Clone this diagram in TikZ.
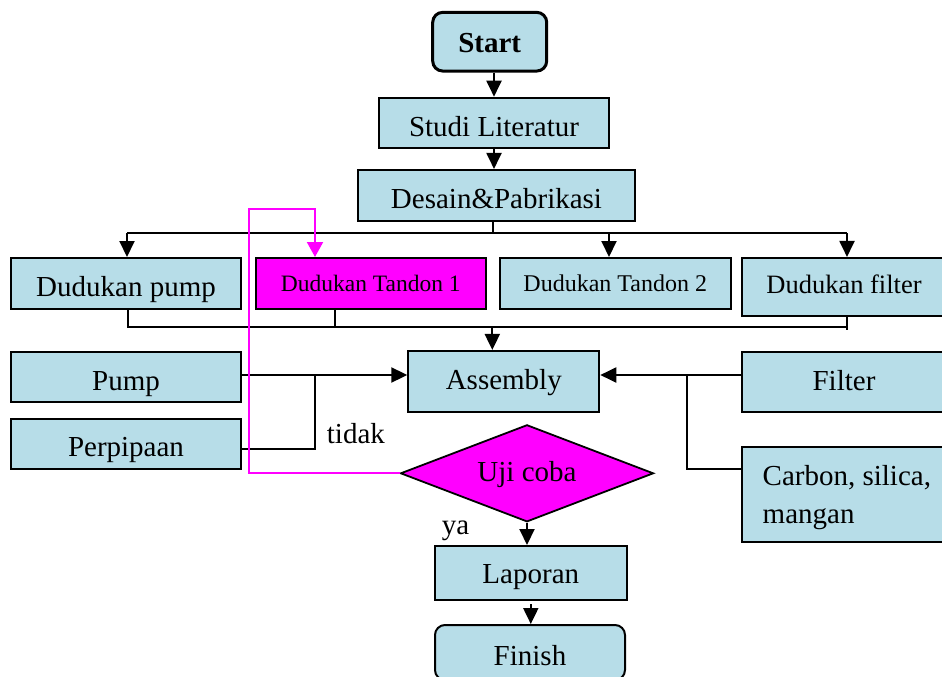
\documentclass[tikz,border=0pt]{standalone}
\usepackage{fontspec}
\setmainfont{Liberation Serif}
\usetikzlibrary{arrows.meta,shapes.geometric}
\definecolor{boxblue}{RGB}{183,221,232}
\definecolor{mag}{RGB}{255,0,255}
\begin{document}
\begin{tikzpicture}[x=1pt,y=-1pt,
  box/.style={draw=black, line width=2pt, fill=boxblue, inner sep=0pt, font=\fontsize{29}{35}\selectfont},
  magbox/.style={box, fill=mag},
  bl/.style={text height=#1, text depth=0pt},
  conn/.style={line width=2pt, black},
  arr/.style={conn, -{Triangle[width=15pt,length=16pt]}},
  magarr/.style={line width=2pt, mag, -{Triangle[width=16pt,length=15pt]}},
  lbl/.style={anchor=base west, inner sep=0pt, font=\fontsize{29}{35}\selectfont}
]
\clip (0,0) rectangle (942,677);
% nodes
\node[box, rounded corners=10pt, line width=3pt, minimum width=114pt, minimum height=58.7pt, bl=22pt, font=\fontsize{29}{35}\selectfont\bfseries] (start) at (489.7,41.7) {Start};
\node[box, minimum width=230pt, minimum height=50pt, bl=28pt] (studi) at (494,122.7) {Studi Literatur};
\node[box, minimum width=277pt, minimum height=50.7pt, bl=25.4pt] (desain) at (496.5,195.3) {Desain\&Pabrikasi};
\node[box, minimum width=230pt, minimum height=51pt, bl=26.4pt] (dpump) at (126,283.5) {Dudukan pump};
\node[magbox, minimum width=230.3pt, minimum height=51pt, bl=16.4pt, font=\fontsize{23.5}{28}\selectfont] (dt1) at (370.8,283.5) {Dudukan Tandon 1};
\node[box, minimum width=230.7pt, minimum height=51pt, bl=16.4pt, font=\fontsize{24}{28}\selectfont] (dt2) at (615.3,283.5) {Dudukan Tandon 2};
\node[box, minimum width=204.6pt, minimum height=57.7pt, bl=13pt, font=\fontsize{26.5}{32}\selectfont] (dfilter) at (844,286.8) {Dudukan filter};
\node[box, minimum width=230pt, minimum height=50pt, bl=25.4pt] (pump) at (126,377.3) {Pump};
\node[box, minimum width=230pt, minimum height=50pt, bl=25.4pt] (perp) at (126,444) {Perpipaan};
\node[box, minimum width=191pt, minimum height=60.7pt, bl=15.4pt] (asm) at (503.8,381.3) {Assembly};
\node[box, minimum width=204.6pt, minimum height=59.4pt, bl=17.4pt] (filter) at (844,382) {Filter};
\node[box, minimum width=227pt, minimum height=95.3pt, text height=0pt, text depth=18.6pt] (carbon) at (855.2,494.3)
  {\parbox[t]{185pt}{\fontsize{29}{38}\selectfont\raggedright Carbon, silica,\\mangan}};
\node[diamond, draw=black, line width=1.8pt, fill=mag, inner sep=0pt, shape aspect=2.6, minimum width=253pt, minimum height=97pt, bl=16.8pt, font=\fontsize{29}{35}\selectfont] (uji) at (527,473.3) {Uji coba};
\node[box, minimum width=191.7pt, minimum height=54pt, bl=20.6pt] (lap) at (530.8,573) {Laporan};
\node[box, rounded corners=10pt, minimum width=190pt, minimum height=55pt, bl=25pt] (fin) at (530,652.5) {Finish};
% labels
\node[lbl] (tidak) at (326.7,443.3) {tidak};
\node[lbl] (ya) at (441.7,534) {ya};
% coordinates
\coordinate (d1) at (492.7,233);
\coordinate (busL) at (127,233);
\coordinate (busT2) at (609,233);
\coordinate (busR) at (847,233);
\coordinate (lbL) at (128,327.3);
\coordinate (lbT1) at (334.5,327.3);
\coordinate (lbA) at (492.3,327.3);
\coordinate (lbR) at (847,327.3);
\coordinate (pj) at (315,375);
\coordinate (ppj) at (315,449.3);
\coordinate (fj) at (686.7,375);
\coordinate (cj) at (686.7,469);
\coordinate (m1) at (249,473.3);
\coordinate (m2) at (249,209);
\coordinate (m3) at (315,209);
% connectors
\draw[arr] (start.south -| studi.north) -- (studi.north);
\draw[arr] (studi.south) -- (desain.north -| studi.south);
\draw[conn] (desain.south -| d1) -- (d1);
\draw[conn] (busL) -- (busR);
\draw[arr] (busL) -- (busL |- dpump.north);
\draw[arr] (busT2) -- (busT2 |- dt2.north);
\draw[arr] (busR) -- (busR |- dfilter.north);
\draw[conn] (dpump.south -| lbL) -- (lbL) -- (lbR);
\draw[conn] (dt1.south -| lbT1) -- (lbT1);
\draw[conn] (dfilter.south -| lbR) -- ([yshift=-3pt]lbR);
\draw[arr] (lbA) -- (lbA |- asm.north);
\draw[arr] (pj -| pump.east) -- (pj -| asm.west);
\draw[conn] (ppj -| perp.east) -- (ppj) -- (pj);
\draw[arr] (fj -| filter.west) -- (fj -| asm.east);
\draw[conn] (cj -| carbon.west) -- (cj) -- (fj);
\draw[arr] (uji.south) -- (uji.south |- lap.north);
\draw[arr] ([yshift=-3pt]lap.south) -- (lap.south |- fin.north);
\draw[magarr] (uji.west) -- (m1) -- (m2) -- (m3) -- (m3 |- dt1.north);
\end{tikzpicture}
\end{document}
